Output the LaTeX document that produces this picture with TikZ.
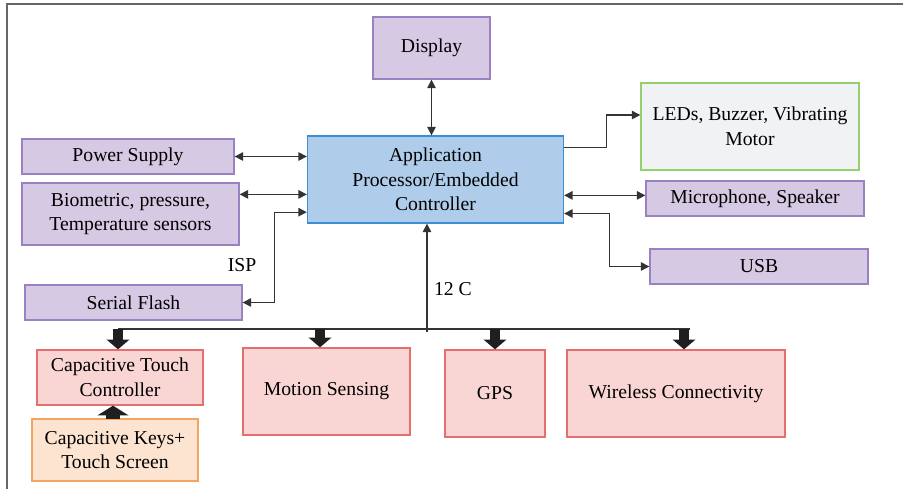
\documentclass[tikz,border=0pt]{standalone}
\usepackage{fontspec}
\setmainfont{Liberation Serif}
\usetikzlibrary{calc,positioning,arrows.meta}
\definecolor{lilacfill}{HTML}{D6C9E3}
\definecolor{lilacline}{HTML}{9A82C2}
\definecolor{cpufill}{HTML}{AFCDEB}
\definecolor{cpuline}{HTML}{3A8ED2}
\definecolor{rosefill}{HTML}{F9D6D4}
\definecolor{roseline}{HTML}{E46F6F}
\definecolor{peachfill}{HTML}{FDE4D1}
\definecolor{peachline}{HTML}{F5A360}
\definecolor{greyfill}{HTML}{F0F2F4}
\definecolor{greenline}{HTML}{94D06E}
\definecolor{wire}{HTML}{333333}

\begin{document}
\begin{tikzpicture}[x=0.025cm,y=-0.025cm,
		box/.style={draw,line width=0.9pt,align=center,inner sep=1pt,font=\fontsize{14}{17.6}\selectfont},
		lilac/.style={box,draw=lilacline,fill=lilacfill},
		rose/.style={box,draw=roseline,fill=rosefill},
		link/.style={draw=wire,line width=0.9pt,>={Triangle[length=6pt,width=6pt]}},
		fat/.style={draw=black!88,line width=7pt,-{Triangle[length=7pt 0,width=16pt 0]}},
		fatter/.style={draw=black!88,line width=10pt,-{Triangle[length=7pt 0,width=22pt 0]}},
		lbl/.style={font=\fontsize{14}{17.6}\selectfont}]
		\useasboundingbox (0,0) rectangle (903,489);
		% frame
		\draw[gray!80!black,line width=0.8pt] (7,489) -- (7,4) -- (903,4);
		% blocks
		\node(disp)   at (431.5,48)  [lilac,minimum width=2.925cm,minimum height=1.55cm] {Display};
		\node(app)    at (435.5,179.5) [box,draw=cpuline,fill=cpufill,minimum width=6.4cm,minimum height=2.175cm] {Application\\Processor/Embedded\\Controller};
		\node(psu)    at (128,156.5) [lilac,minimum width=5.3cm,minimum height=0.875cm] {Power Supply};
		\node(bio)    at (130.5,214) [lilac,minimum width=5.425cm,minimum height=1.55cm] {Biometric, pressure,\\Temperature sensors};
		\node(flash)  at (133.5,302.5) [lilac,minimum width=5.425cm,minimum height=0.875cm] {Serial Flash};
		\node(led)    at (750,126.5) [box,draw=greenline,fill=greyfill,minimum width=5.45cm,minimum height=2.175cm] {LEDs, Buzzer, Vibrating\\Motor};
		\node(mic)    at (755,198.5) [lilac,minimum width=5.45cm,minimum height=0.875cm] {Microphone, Speaker};
		\node(usb)    at (759,266.5) [lilac,minimum width=5.45cm,minimum height=0.875cm] {USB};
		\node(ctc)    at (120,377.5) [rose,minimum width=4.15cm,minimum height=1.375cm] {Capacitive Touch\\Controller};
		\node(keys)   at (115,450)   [box,draw=peachline,fill=peachfill,minimum width=4.15cm,minimum height=1.55cm] {Capacitive Keys+\\Touch Screen};
		\node(motion) at (326.5,391.5) [rose,minimum width=4.175cm,minimum height=2.175cm] {Motion Sensing};
		\node(gps)    at (495,393.5) [rose,minimum width=2.5cm,minimum height=2.175cm] {GPS};
		\node(wless)  at (676,393.5) [rose,minimum width=5.45cm,minimum height=2.175cm] {Wireless Connectivity};
		\node(isp)    at (242,265) [lbl] {ISP};
		\node(iic)    at (453,289) [lbl] {12 C};
		% links to the controller
		\draw[link,<->] (disp.south) -- (disp.south |- app.north);
		\draw[link,<->] (psu.east) -- (psu.east -| app.west);
		\draw[link,<->] ($(bio.north east)!0.19!(bio.south east)$) coordinate (b) -- (b -| app.west);
		\draw[link,<->] ($(app.north west)!0.87!(app.south west)$) -- ++(-32,0) |- (flash.east);
		\draw[link,->] ($(app.north east)!0.14!(app.south east)$) -- ++(42,0) |- ($(led.north west)!0.37!(led.south west)$);
		\draw[link,<->] ($(app.north east)!0.68!(app.south east)$) coordinate (m) -- (m -| mic.west);
		\draw[link,<->] ($(app.north east)!0.885!(app.south east)$) -- ++(45,0) |- (usb.west);
		% bus
		\coordinate (busL) at (118,329);
		\coordinate (busR) at (690,329);
		\coordinate (busT) at (427,332);
		\draw[link] (busL) -- (busR);
		\draw[link,->] (busT) -- (busT |- app.south);
		\draw[fat] (busL) -- (busL |- ctc.north);
		\draw[fat] (320,329) coordinate (t2) -- (t2 |- motion.north);
		\draw[fat] (495,329) coordinate (t3) -- (t3 |- gps.north);
		\draw[fat] (684,329) coordinate (t4) -- (t4 |- wless.north);
		\draw[fatter] (113,419) coordinate (k) -- (k |- ctc.south);
	\end{tikzpicture}
\end{document}
